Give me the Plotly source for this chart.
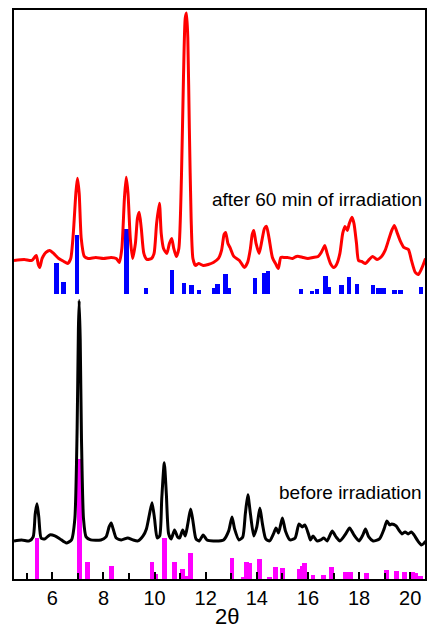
import plotly.graph_objects as go

# ---- data ----
before_x = [4.5, 4.8, 5.1, 5.25, 5.33, 5.40, 5.47, 5.56, 5.7, 5.9, 6.1, 6.3, 6.55, 6.75, 6.88, 6.97, 7.02, 7.05,
            7.09, 7.14, 7.22, 7.32, 7.5, 7.9, 8.1, 8.22, 8.30, 8.38, 8.5, 8.7, 8.95, 9.15, 9.35, 9.55, 9.68, 9.78,
            9.90, 10.0, 10.1, 10.2, 10.28, 10.38, 10.46, 10.55, 10.65, 10.78, 10.9, 10.98, 11.1, 11.2, 11.3, 11.41,
            11.5, 11.62, 11.75, 11.9, 12.05, 12.3, 12.7, 12.9, 13.03, 13.13, 13.3, 13.45, 13.55, 13.65, 13.75, 13.88,
            14.0, 14.12, 14.22, 14.35, 14.5, 14.65, 14.75, 14.85, 15.0, 15.12, 15.3, 15.5, 15.65, 15.78, 15.88, 16.02,
            16.1, 16.2, 16.35, 16.5, 16.62, 16.75, 16.95, 17.1, 17.25, 17.45, 17.63, 17.8, 18.0, 18.15, 18.25, 18.38,
            18.55, 18.8, 18.98, 19.09, 19.2, 19.28, 19.45, 19.58, 19.68, 19.8, 19.92, 20.05, 20.15, 20.3, 20.44,
            20.55, 20.6]
before_y = [38, 39, 38, 42, 65, 75, 62, 41, 40, 44, 43, 40, 36, 39, 60, 150, 250, 278,
            240, 140, 60, 42, 39, 39, 42, 52, 56, 50, 41, 39, 41, 39, 38, 43, 50, 62,
            76, 60, 41, 43, 80, 116, 85, 45, 40, 49, 42, 41, 49, 43, 55, 70,
            58, 40, 38, 44, 39, 38, 39, 48, 62, 50, 39, 42, 65, 84, 65, 43,
            52, 71, 55, 40, 38, 45, 51, 46, 61, 48, 39, 41, 55, 52, 54, 45,
            39, 43, 38, 39, 41, 38, 48, 42, 38, 44, 51, 44, 38, 44, 50, 42,
            38, 40, 50, 58, 54, 55, 53, 48, 45, 47, 45, 47, 44, 38, 34,
            36, 38]

after_x = [4.5, 4.9, 5.2, 5.37, 5.45, 5.51, 5.6, 5.75, 5.9, 6.05, 6.25, 6.45, 6.6, 6.72, 6.82, 6.92, 6.98, 7.05,
           7.13, 7.25, 7.4, 7.7, 8.0, 8.3, 8.5, 8.62, 8.72, 8.82, 8.89, 8.96, 9.05, 9.14, 9.25, 9.33, 9.40, 9.48,
           9.58, 9.7, 9.88, 9.98, 10.08, 10.19, 10.26, 10.35, 10.48, 10.58, 10.67, 10.75, 10.85, 10.95, 11.05,
           11.13, 11.2, 11.25, 11.3, 11.36, 11.43, 11.5, 11.6, 11.72, 11.9, 12.1, 12.3, 12.5, 12.62, 12.72, 12.78,
           12.87, 12.95, 13.1, 13.32, 13.51, 13.64, 13.75, 13.82, 13.88, 13.97, 14.09, 14.2, 14.3, 14.38, 14.48,
           14.61, 14.75, 14.84, 14.94, 15.05, 15.2, 15.4, 15.55, 15.65, 15.8, 16.0, 16.2, 16.4, 16.52, 16.6, 16.66,
           16.75, 16.88, 17.01, 17.12, 17.25, 17.36, 17.45, 17.54, 17.62, 17.72, 17.8, 17.9, 17.98, 18.1, 18.25,
           18.4, 18.53, 18.7, 18.88, 19.02, 19.15, 19.28, 19.38, 19.5, 19.62, 19.75, 19.93, 20.05, 20.2, 20.32,
           20.45, 20.6]
after_y = [318, 319, 318, 323, 314, 311, 320, 326, 328, 325, 320, 317, 315, 320, 345, 385, 400, 385,
           340, 322, 320, 321, 320, 321, 320, 316, 330, 380, 401, 385, 340, 320, 335, 360, 366, 350,
           325, 319, 320, 325, 355, 375, 345, 330, 325, 335, 340, 330, 322, 330, 400,
           500, 560, 565, 540, 450, 360, 320, 313, 315, 313, 314, 316, 320, 328, 344, 346,
           335, 331, 322, 318, 311, 316, 330, 344, 348, 335, 325, 338, 350, 352, 340,
           321, 314, 310, 321, 321, 321, 320, 322, 322, 321, 320, 321, 322, 326, 330, 333,
           325, 315, 311, 314, 325, 345, 352, 348, 355, 361, 355, 335, 318, 317, 315,
           319, 322, 319, 322, 328, 338, 348, 353, 345, 337, 331, 329, 318, 306, 304,
           310, 320]

# reference sticks (after irradiation: blue, drawn above 'stick_after_base')
stick_after_base = 285
stick_after_x = [6.16, 6.44, 6.96, 8.90, 9.66, 10.68, 11.15, 11.45, 11.73, 12.34, 12.46, 12.77, 12.92, 13.94,
                 14.29, 14.45, 15.72, 16.17, 16.36, 16.69, 16.82, 17.31, 17.6, 17.93, 18.55, 18.76, 18.95,
                 19.38, 19.62, 20.42]
stick_after_h = [30, 11, 58, 64, 5, 23, 10, 8, 3, 5, 9, 19, 5, 15,
                 20, 22, 4, 2, 4, 17, 6, 8, 16, 9, 8, 5, 5,
                 3, 3, 6]

# reference sticks (before irradiation: magenta, from the bottom)
stick_before_x = [5.40, 7.05, 7.37, 8.30, 9.90, 10.05, 10.38, 10.79, 11.10, 11.22, 11.41, 13.03, 13.47, 13.60,
                  13.72, 14.12, 14.50, 14.74, 15.00, 15.66, 15.78, 15.88, 16.20, 16.62, 16.92, 17.47, 17.65,
                  18.28, 19.08, 19.45, 19.78, 20.08, 20.20, 20.40]
stick_before_h = [41, 120, 17, 13, 17, 5, 41, 17, 10, 3, 26, 21, 2, 17,
                  16, 20, 2, 12, 11, 10, 13, 16, 4, 4, 12, 7, 7,
                  6, 9, 8, 7, 7, 6, 3]

tick_vals = [6, 8, 10, 12, 14, 16, 18, 20]
tick_text = ["6", "8", "10", "12", "14", "16", "18", "20"]
x_title = "2θ"

FONT = "Arial, Liberation Sans, sans-serif"

fig = go.Figure()

fig.add_trace(go.Bar(x=stick_before_x, y=stick_before_h, base=0, width=0.19,
                     marker=dict(color="#ff00ff", line=dict(width=0)), showlegend=False))
fig.add_trace(go.Bar(x=stick_after_x, y=stick_after_h, base=stick_after_base, width=0.17,
                     marker=dict(color="#0000ff", line=dict(width=0)), showlegend=False))
fig.add_trace(go.Scatter(x=before_x, y=before_y, mode="lines",
                         line=dict(color="black", width=3, shape="spline", smoothing=0.6), showlegend=False))
fig.add_trace(go.Scatter(x=after_x, y=after_y, mode="lines",
                         line=dict(color="#ff0000", width=3, shape="spline", smoothing=0.6), showlegend=False))

fig.add_annotation(x=20.53, y=379, text="after 60 min of irradiation", showarrow=False,
                   xanchor="right", yanchor="middle", font=dict(family=FONT, size=19, color="black"))
fig.add_annotation(x=20.53, y=86, text="before irradiation", showarrow=False,
                   xanchor="right", yanchor="middle", font=dict(family=FONT, size=19, color="black"))
fig.add_annotation(x=12.85, y=0, yshift=-37, text=x_title, showarrow=False,
                   xanchor="center", yanchor="middle", font=dict(family=FONT, size=22, color="black"))

fig.update_layout(
    width=428, height=628,
    margin=dict(l=14, r=1, t=10, b=49),
    paper_bgcolor="white", plot_bgcolor="white",
    barmode="overlay", bargap=0,
    font=dict(family=FONT, color="black"),
)
fig.update_xaxes(range=[4.5, 20.58], showgrid=False, zeroline=False,
                 showline=True, linecolor="black", linewidth=2, mirror=True,
                 tickmode="array", tickvals=tick_vals, ticktext=tick_text,
                 ticks="inside", ticklen=7, tickwidth=2, tickcolor="black",
                 minor=dict(tickmode="linear", tick0=5, dtick=1, ticks="inside", ticklen=6,
                            tickwidth=2, tickcolor="black"),
                 tickfont=dict(family=FONT, size=20, color="black"))
fig.update_yaxes(range=[0, 568], showgrid=False, zeroline=False, showticklabels=False,
                 showline=True, linecolor="black", linewidth=2, mirror=True, ticks="")

fig.write_html("out.html")
